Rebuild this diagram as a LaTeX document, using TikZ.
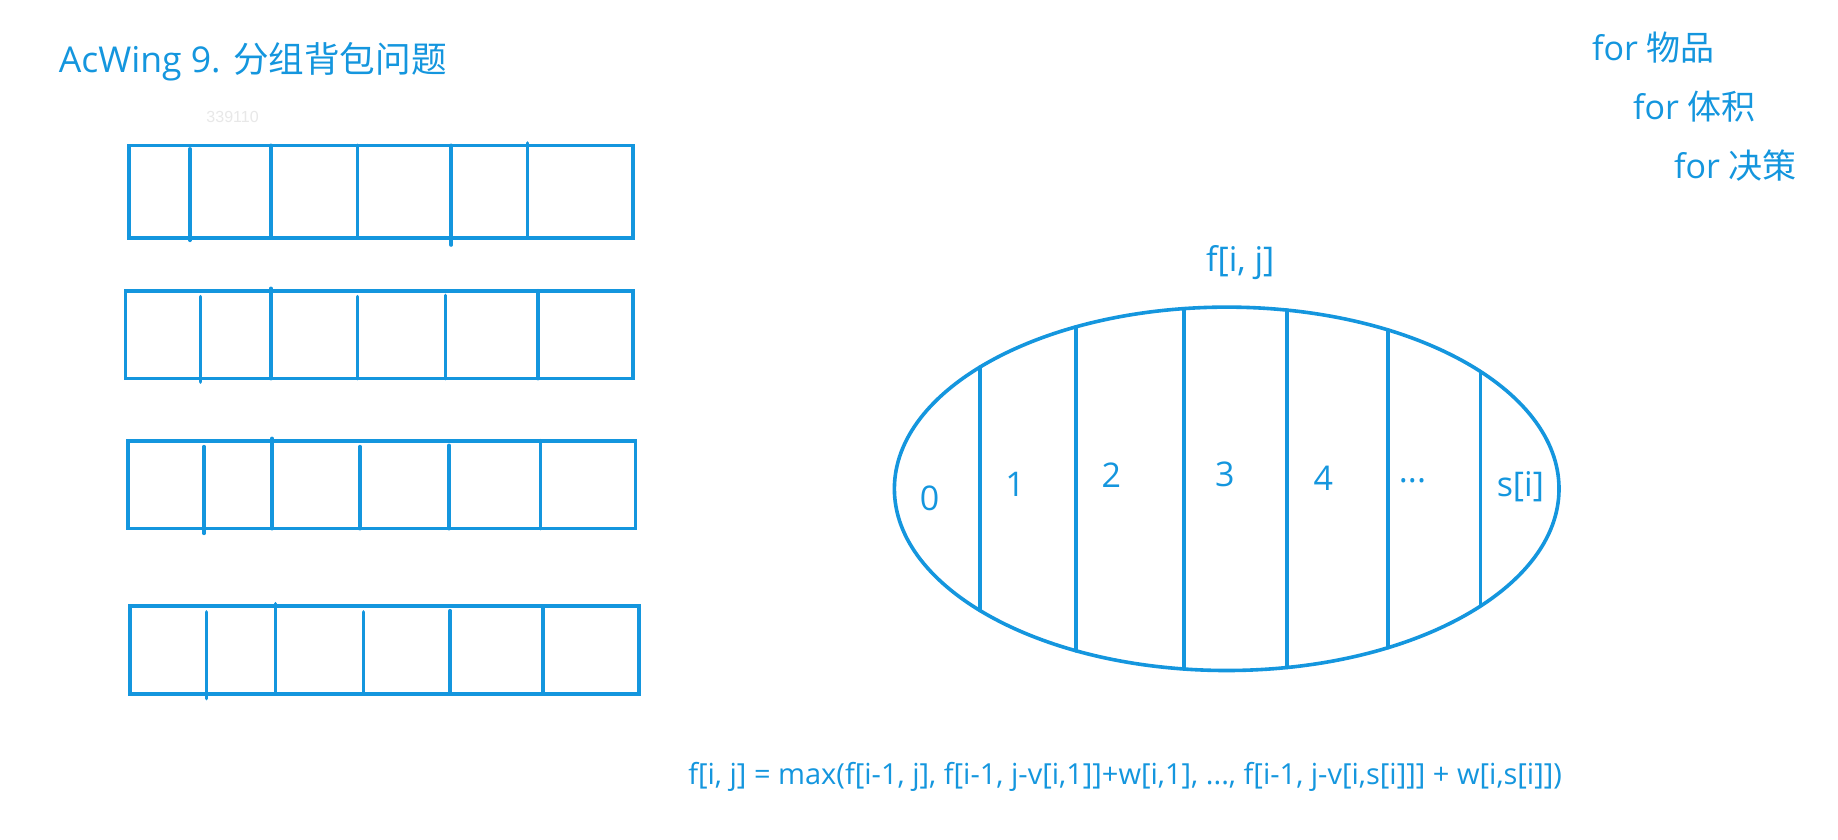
\documentclass[tikz,border=0pt]{standalone}
\usepackage{fontspec}
\setmainfont{Open Sans}
\newfontfamily\cjk{Noto Sans CJK SC}
\newfontfamily\idfont{Liberation Sans}
\definecolor{ink}{RGB}{20,150,222}
\definecolor{faint}{RGB}{232,232,232}
\tikzset{
  stroke/.style={draw=ink, line width=3.6pt, line cap=round},
  bigtxt/.style={text=ink, inner sep=0pt, font=\fontsize{34}{40}\selectfont},
  celltxt/.style={text=ink, inner sep=0pt, font=\fontsize{34}{40}\selectfont},
  formtxt/.style={text=ink, inner sep=0pt, font=\fontsize{29}{34}\selectfont},
}
\begin{document}
\begin{tikzpicture}[x=1.1722pt,y=-1.1722pt]
\useasboundingbox[fill=white] (0,0) rectangle (1568,716);

% title and loops
\node[bigtxt, anchor=base west, font=\fontsize{35.6}{42}\selectfont] (title) at (50,62) {AcWing 9. {\cjk 分组背包问题}};
\node[text=faint, inner sep=0pt, font=\idfont\fontsize{16}{18}\selectfont] (id) at (198.4,99.8) {339110};
\node[bigtxt, anchor=base west] (loop1) at (1358,52) {for {\cjk 物品}};
\node[bigtxt, anchor=base west] (loop2) at (1393,102) {for {\cjk 体积}};
\node[bigtxt, anchor=base west] (loop3) at (1428,152) {for {\cjk 决策}};

% groups of items
\draw[stroke] (110,124) rectangle (540,203);
\draw[stroke] (162,127) -- (162,205);
\draw[stroke] (231,124) -- (231,203);
\draw[stroke] (305,124) -- (305,203);
\draw[stroke] (385,124) -- (385,209);
\draw[stroke] (450,122) -- (450,203);

\draw[stroke] (107,248) rectangle (540,323);
\draw[stroke] (171,253) -- (171,326);
\draw[stroke] (231,246) -- (231,323);
\draw[stroke] (305,253) -- (305,323);
\draw[stroke] (380,252) -- (380,323);
\draw[stroke] (459,248) -- (459,323);

\draw[stroke] (109,376) rectangle (542,451);
\draw[stroke] (174,381) -- (174,455);
\draw[stroke] (232,374) -- (232,451);
\draw[stroke] (307,381) -- (307,451);
\draw[stroke] (383,380) -- (383,451);
\draw[stroke] (461,376) -- (461,451);

\draw[stroke] (111,517) rectangle (545,592);
\draw[stroke] (176,522) -- (176,596);
\draw[stroke] (235,515) -- (235,592);
\draw[stroke] (310,522) -- (310,592);
\draw[stroke] (384,521) -- (384,592);
\draw[stroke] (463,517) -- (463,592);

% decision ellipse
\draw[stroke] (1046.5,417) ellipse [x radius=283.5, y radius=155];
\draw[stroke] (836,313.2) -- (836,520.8);
\draw[stroke] (918,278.8) -- (918,555.2);
\draw[stroke] (1010,263.3) -- (1010,570.7);
\draw[stroke] (1098,264.6) -- (1098,569.4);
\draw[stroke] (1184,281.5) -- (1184,552.5);
\draw[stroke] (1263,316.9) -- (1263,517.1);

\node[formtxt, font=\fontsize{34}{40}\selectfont] (fij) at (1058,224) {f[i, j]};
\node[celltxt] (c0) at (793,425) {0};
\node[celltxt] (c1) at (866,413) {1};
\node[celltxt] (c2) at (948,405) {2};
\node[celltxt] (c3) at (1045,405) {3};
\node[celltxt] (c4) at (1129,408) {4};
\node[celltxt, anchor=base] (cd) at (1205,412) {...};
\node[celltxt] (cs) at (1297,415) {s[i]};

\node[formtxt, anchor=west] (eq) at (587,663) {f[i, j] = max(f[i-1, j], f[i-1, j-v[i,1]]+w[i,1], ..., f[i-1, j-v[i,s[i]]] + w[i,s[i]])};
\end{tikzpicture}
\end{document}
